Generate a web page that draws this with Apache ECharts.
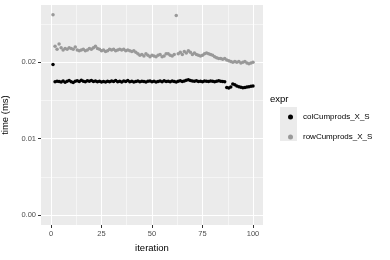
<!DOCTYPE html>
<html><head><meta charset="utf-8">
<script src="https://cdn.jsdelivr.net/npm/echarts@6/dist/echarts.min.js"></script>
<style>html,body{margin:0;padding:0;background:#fff}#c{width:390px;height:260px}</style>
</head><body><div id="c"></div>
<script>
var iterations = [];
for (var i = 1; i <= 100; i++) iterations.push(i);
var colCumprods = [0.0197,0.01745,0.01750,0.01748,0.01742,0.01755,0.01738,0.01752,0.01760,0.01745,
0.01735,0.01750,0.01758,0.01748,0.01765,0.01752,0.01745,0.01758,0.01750,0.01762,
0.01748,0.01755,0.01745,0.01752,0.01740,0.01748,0.01742,0.01750,0.01745,0.01755,
0.01748,0.01760,0.01745,0.01752,0.01740,0.01755,0.01748,0.01762,0.01745,0.01750,
0.01742,0.01748,0.01755,0.01745,0.01752,0.01748,0.01742,0.01750,0.01755,0.01745,
0.01752,0.01740,0.01748,0.01755,0.01745,0.01758,0.01748,0.01752,0.01745,0.01755,
0.01748,0.01742,0.01750,0.01758,0.01748,0.01755,0.01765,0.01772,0.01760,0.01755,
0.01750,0.01758,0.01748,0.01752,0.01745,0.01755,0.01750,0.01748,0.01755,0.01752,
0.01745,0.01750,0.01758,0.01752,0.01748,0.01745,0.01668,0.01662,0.01675,0.01715,
0.01705,0.01690,0.01680,0.01672,0.01665,0.01670,0.01675,0.01680,0.01685,0.01690];
var rowCumprods = [0.0262,0.0221,0.0217,0.0224,0.0219,0.0216,0.0218,0.0217,0.0219,0.0218,
0.0217,0.0220,0.0216,0.0215,0.0216,0.0217,0.0215,0.0216,0.0218,0.0217,
0.0219,0.0221,0.0218,0.0217,0.0215,0.0216,0.0214,0.0215,0.0217,0.0216,
0.0217,0.0215,0.0216,0.0217,0.0216,0.0217,0.0215,0.0216,0.0215,0.0214,
0.0215,0.0213,0.0211,0.0209,0.0210,0.0208,0.0211,0.0209,0.0207,0.0209,
0.0208,0.0207,0.0209,0.0210,0.0207,0.0208,0.0211,0.0211,0.0209,0.0208,
0.0210,0.0261,0.0211,0.0213,0.0210,0.0214,0.0212,0.0215,0.0213,0.0210,
0.0212,0.0210,0.0209,0.0208,0.0209,0.0211,0.0212,0.0211,0.0210,0.0209,
0.0207,0.0206,0.0205,0.0205,0.0204,0.0205,0.0203,0.0202,0.0201,0.0200,
0.0201,0.0200,0.0201,0.0199,0.0200,0.0201,0.0199,0.0198,0.0199,0.0200];
var xTicks = [0, 25, 50, 75, 100];
var xMinor = [12.5, 37.5, 62.5, 87.5];
var yTicks = [0, 0.01, 0.02];
var yMinor = [0.005, 0.015, 0.025];
var seriesNames = ['colCumprods_X_S', 'rowCumprods_X_S'];

function pairs(vals) { return vals.map(function (v, k) { return [iterations[k], v]; }); }

var FONT = 'Liberation Sans';
var chart = echarts.init(document.getElementById('c'), null, {renderer: 'canvas'});
var xBase = {type: 'value', min: -4.95, max: 104.95, gridIndex: 0};
var yBase = {type: 'value', min: -0.00131, max: 0.02749, gridIndex: 0};
chart.setOption({
  animation: false,
  backgroundColor: '#ffffff',
  textStyle: {fontFamily: FONT},
  grid: {left: 41, right: 127, top: 5, bottom: 35, show: true, backgroundColor: '#EBEBEB', borderWidth: 0,
    containLabel: false, outerBoundsMode: 'none'},
  xAxis: [
    Object.assign({}, xBase, {
      axisLine: {show: false, onZero: false},
      axisTick: {show: true, length: 3, lineStyle: {color: '#333333', width: 1}, customValues: xTicks},
      axisLabel: {customValues: xTicks, color: '#4D4D4D', fontSize: 7.5, margin: 5, fontFamily: FONT},
      splitLine: {show: true, lineStyle: {color: '#ffffff', width: 1}},
      name: 'iteration', nameLocation: 'middle', nameGap: 17,
      nameTextStyle: {color: '#000000', fontSize: 9.5, fontFamily: FONT}
    }),
    Object.assign({}, xBase, {
      position: 'bottom',
      axisLine: {show: false, onZero: false}, axisLabel: {show: false},
      axisTick: {show: false, customValues: xMinor},
      splitLine: {show: true, lineStyle: {color: '#ffffff', width: 0.5}}
    })
  ],
  yAxis: [
    Object.assign({}, yBase, {
      axisLine: {show: false, onZero: false},
      axisTick: {show: true, length: 3, lineStyle: {color: '#333333', width: 1}, customValues: yTicks},
      axisLabel: {customValues: yTicks, color: '#4D4D4D', fontSize: 7.5, margin: 5, fontFamily: FONT,
        formatter: function (v) { return v.toFixed(2); }},
      splitLine: {show: true, lineStyle: {color: '#ffffff', width: 1}},
      name: 'time (ms)', nameLocation: 'middle', nameGap: 24, nameRotate: 90,
      nameTextStyle: {color: '#000000', fontSize: 9.5, fontFamily: FONT}
    }),
    Object.assign({}, yBase, {
      position: 'left',
      axisLine: {show: false, onZero: false}, axisLabel: {show: false},
      axisTick: {show: false, customValues: yMinor},
      splitLine: {show: true, lineStyle: {color: '#ffffff', width: 0.5}}
    })
  ],
  legend: {
    orient: 'vertical', left: 283, top: 108,
    data: seriesNames,
    icon: 'circle', itemWidth: 5, itemHeight: 5, itemGap: 12,
    textStyle: {color: '#000000', fontSize: 8, fontFamily: FONT, padding: [0, 0, 0, 5]}
  },
  graphic: [
    {type: 'text', left: 270, top: 94, style: {text: 'expr', fill: '#000000', font: '9.5px "Liberation Sans"'}},
    {type: 'rect', left: 280, top: 107, shape: {width: 17, height: 34}, style: {fill: '#EBEBEB'}, z: -1}
  ],
  series: [
    {name: seriesNames[0], type: 'scatter', xAxisIndex: 0, yAxisIndex: 0, data: pairs(colCumprods),
      symbolSize: 3.5, itemStyle: {color: '#000000', opacity: 1}},
    {name: seriesNames[1], type: 'scatter', xAxisIndex: 0, yAxisIndex: 0, data: pairs(rowCumprods),
      symbolSize: 3.5, itemStyle: {color: '#999999', opacity: 1}}
  ]
});
</script></body></html>
